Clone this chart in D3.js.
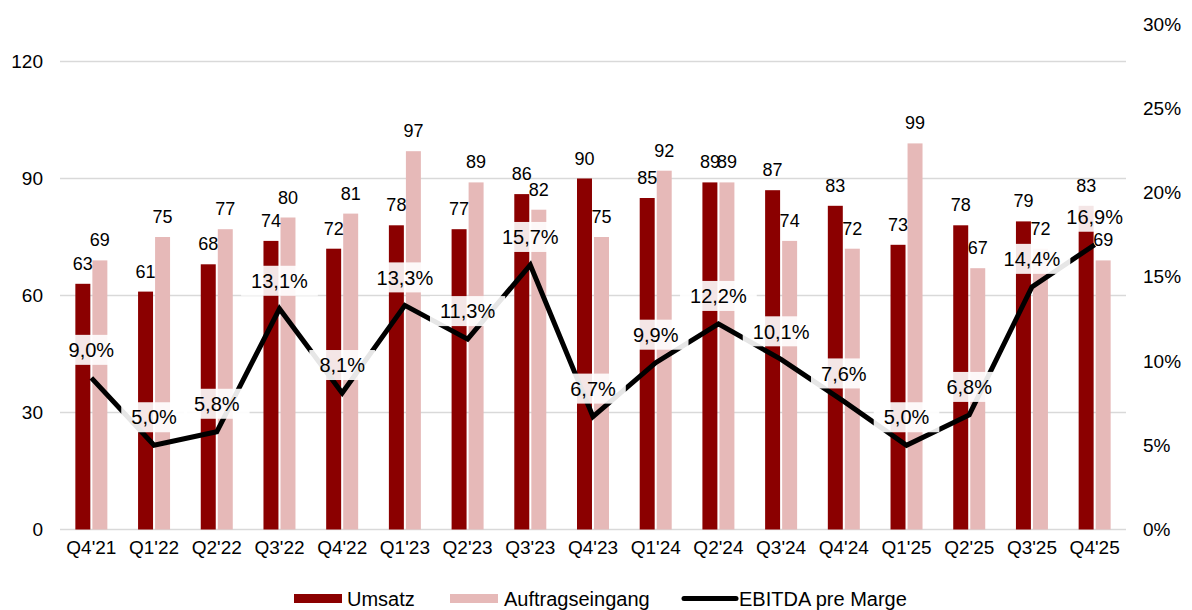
<!DOCTYPE html>
<html>
<head>
<meta charset="utf-8">
<script src="https://cdn.jsdelivr.net/npm/d3@7"></script>
<style>
  body { margin: 0; background: #fff; }
  text { font-family: Arial, "Liberation Sans", sans-serif; fill: #000; }
</style>
</head>
<body>
<script>
// Data
var quarters = ["Q4'21", "Q1'22", "Q2'22", "Q3'22", "Q4'22", "Q1'23", "Q2'23", "Q3'23", "Q4'23",
  "Q1'24", "Q2'24", "Q3'24", "Q4'24", "Q1'25", "Q2'25", "Q3'25", "Q4'25"];
var umsatz = [63, 61, 68, 74, 72, 78, 77, 86, 90, 85, 89, 87, 83, 73, 78, 79, 83];
var auftragseingang = [69, 75, 77, 80, 81, 97, 89, 82, 75, 92, 89, 74, 72, 99, 67, 72, 69];
var marge = [9.0, 5.0, 5.8, 13.1, 8.1, 13.3, 11.3, 15.7, 6.7, 9.9, 12.2, 10.1, 7.6, 5.0, 6.8, 14.4, 16.9];
var leftTicks = [0, 30, 60, 90, 120];
var rightTicks = [0, 5, 10, 15, 20, 25, 30];
var seriesNames = ["Umsatz", "Auftragseingang"];

var svgWidth = 1192;
var svgHeight = 610;
var colors = { Umsatz: "#8B0000", Auftragseingang: "#E6B9B8" };

var svg = d3.select("body")
  .append("svg")
  .attr("width", svgWidth)
  .attr("height", svgHeight);

// Scales
var x = d3.scaleBand()
  .domain(quarters)
  .range([60, 1126]);

var xSub = d3.scaleBand()
  .domain(seriesNames)
  .range([-16, 16])
  .paddingInner(0.12);

var yLeft = d3.scaleLinear()
  .domain([0, 120])
  .range([529.5, 61.5]);

var yRight = d3.scaleLinear()
  .domain([0, 30])
  .range([529.5, 24]);

// Gridlines
svg.append("g")
  .selectAll("line")
  .data(leftTicks)
  .enter().append("line")
  .attr("x1", 60)
  .attr("x2", 1126)
  .attr("y1", function (d) { return yLeft(d); })
  .attr("y2", function (d) { return yLeft(d); })
  .attr("stroke", "#D9D9D9")
  .attr("stroke-width", 1.5);

// Left axis
var leftAxis = svg.append("g")
  .attr("transform", "translate(43,0)")
  .call(d3.axisLeft(yLeft).tickValues(leftTicks).tickSize(0).tickPadding(0));
leftAxis.select(".domain").remove();
leftAxis.selectAll("text").style("font-size", "19px").style("font-family", "Arial, 'Liberation Sans', sans-serif");

// Right axis
var rightAxis = svg.append("g")
  .attr("transform", "translate(1143,0)")
  .call(d3.axisRight(yRight).tickValues(rightTicks).tickSize(0).tickPadding(0)
    .tickFormat(function (d) { return d + "%"; }));
rightAxis.select(".domain").remove();
rightAxis.selectAll("text").style("font-size", "19px").style("font-family", "Arial, 'Liberation Sans', sans-serif");

// Bottom axis
var bottomAxis = svg.append("g")
  .attr("transform", "translate(0,540)")
  .call(d3.axisBottom(x).tickSize(0).tickPadding(0));
bottomAxis.select(".domain").remove();
bottomAxis.selectAll("text")
  .attr("dy", "0.71em")
  .style("font-size", "19px")
  .style("font-family", "Arial, 'Liberation Sans', sans-serif");

// Bars
var groups = svg.append("g")
  .selectAll("g")
  .data(quarters)
  .enter().append("g")
  .attr("transform", function (d) { return "translate(" + (x(d) + x.bandwidth() / 2) + ",0)"; });

var barData = function (d, i) {
  return [
    { key: "Umsatz", value: umsatz[i] },
    { key: "Auftragseingang", value: auftragseingang[i] }
  ];
};

groups.selectAll("rect")
  .data(barData)
  .enter().append("rect")
  .attr("x", function (d) { return xSub(d.key); })
  .attr("width", xSub.bandwidth())
  .attr("y", function (d) { return yLeft(d.value); })
  .attr("height", function (d) { return yLeft(0) - yLeft(d.value); })
  .attr("fill", function (d) { return colors[d.key]; });

// Bar value labels
groups.selectAll("text.val")
  .data(barData)
  .enter().append("text")
  .attr("class", "val")
  .attr("x", function (d) { return xSub(d.key) + xSub.bandwidth() / 2; })
  .attr("y", function (d) { return yLeft(d.value) - 14; })
  .attr("text-anchor", "middle")
  .style("font-size", "18px")
  .text(function (d) { return d.value; });

// EBITDA margin line
var line = d3.line()
  .x(function (d, i) { return x(quarters[i]) + x.bandwidth() / 2; })
  .y(function (d) { return yRight(d); });

svg.append("path")
  .datum(marge)
  .attr("d", line)
  .attr("fill", "none")
  .attr("stroke", "#000")
  .attr("stroke-width", 5);

// Margin labels with white boxes
var margeLabels = svg.append("g")
  .selectAll("g")
  .data(marge)
  .enter().append("g")
  .attr("transform", function (d, i) {
    return "translate(" + (x(quarters[i]) + x.bandwidth() / 2) + "," + (yRight(d) - 28) + ")";
  });

margeLabels.append("rect").attr("class", "box");

margeLabels.append("text")
  .attr("text-anchor", "middle")
  .attr("dy", "0.36em")
  .style("font-size", "20px")
  .text(function (d) { return d.toFixed(1).replace(".", ",") + "%"; });

margeLabels.each(function () {
  var g = d3.select(this);
  var w = g.select("text").node().getComputedTextLength();
  g.select("rect")
    .attr("x", -w / 2 - 10)
    .attr("y", -15)
    .attr("width", w + 20)
    .attr("height", 30)
    .attr("fill", "#fff")
    .attr("fill-opacity", 0.9);
});

// Legend
var legend = svg.append("g");

legend.append("rect").attr("x", 294).attr("y", 594).attr("width", 48).attr("height", 9).attr("fill", colors.Umsatz);
legend.append("text").attr("x", 347).attr("y", 606).style("font-size", "20px").text("Umsatz");

legend.append("rect").attr("x", 450).attr("y", 594).attr("width", 48).attr("height", 9).attr("fill", colors.Auftragseingang);
legend.append("text").attr("x", 504).attr("y", 606).style("font-size", "20px").text("Auftragseingang");

legend.append("line").attr("x1", 684).attr("x2", 736).attr("y1", 598.5).attr("y2", 598.5)
  .attr("stroke", "#000").attr("stroke-width", 5).attr("stroke-linecap", "round");
legend.append("text").attr("x", 739).attr("y", 606).style("font-size", "20px").text("EBITDA pre Marge");
</script>
</body>
</html>
